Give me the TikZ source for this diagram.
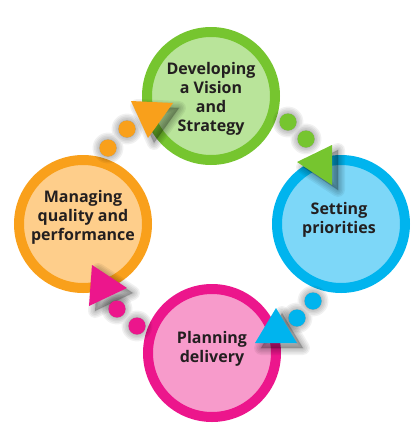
\documentclass[tikz,border=0pt]{standalone}
\usepackage{fontspec}
\setmainfont{Open Sans}
\definecolor{gR}{HTML}{76C52F}
\definecolor{gF}{HTML}{B9E49A}
\definecolor{bR}{HTML}{00B4EE}
\definecolor{bF}{HTML}{7DD7F8}
\definecolor{oR}{HTML}{F9A01B}
\definecolor{oF}{HTML}{FECE8B}
\definecolor{pR}{HTML}{EC168C}
\definecolor{pF}{HTML}{F79BCB}
\definecolor{txt}{HTML}{231F20}
\newcommand{\shad}[1]{\foreach \w in {14,11,8,5,2}{\path[fill=black,draw=black,opacity=0.055,line width=\w pt,line join=round,xshift=6pt,yshift=-5pt] #1;}}
\tikzset{
  ring/.style 2 args={circle,draw=#1,fill=#2,line width=10pt,minimum size=128pt,inner sep=0pt,outer sep=0pt},
  lbl/.style={align=center,text=txt,font=\bfseries\fontsize{16}{19}\selectfont,inner sep=0pt},
  dot/.style={circle,fill=#1,minimum size=17pt,inner sep=0pt,outer sep=0pt},
}
\begin{document}
\begin{tikzpicture}[x=1pt,y=-1pt]
\useasboundingbox (0,0) rectangle (419,426);
% circles
\node[ring={gR}{gF}] (top) at (211,96) {};
\node[ring={bR}{bF}] (right) at (341,224) {};
\node[ring={oR}{oF}] (left) at (83,224) {};
\node[ring={pR}{pF}] (bottom) at (212,353) {};
% labels
\node[lbl] (ttop) at (211,99) {Developing\\a Vision\\and\\Strategy};
\node[lbl] (tright) at (339,220) {Setting\\priorities};
\node[lbl] (tleft) at (83,217) {Managing\\quality and\\performance};
\node[lbl] (tbottom) at (212,349) {Planning\\delivery};
% dot positions
\coordinate (g1) at (288,122);
\coordinate (g2) at (306,139);
\coordinate (o1) at (127,129);
\coordinate (o2) at (108,148);
\coordinate (p1) at (117,309);
\coordinate (p2) at (137,326);
\coordinate (b1) at (297,318);
\coordinate (b2) at (313,301);
% shadows
\shad{(g1) circle (8.5) (g2) circle (8.5)}
\shad{(297,162) -- (332,145) -- (332,185) -- cycle}
\shad{(o1) circle (8.5) (o2) circle (8.5)}
\shad{(131,101) -- (173,103) -- (148,138) -- cycle}
\shad{(p1) circle (8.5) (p2) circle (8.5)}
\shad{(92,265) -- (127,288) -- (89,306) -- cycle}
\shad{(b1) circle (8.5) (b2) circle (8.5)}
\shad{(276,308) -- (255,343) -- (297,343) -- cycle}
% dots
\node[dot=gR] (dg1) at (g1) {};
\node[dot=gR] (dg2) at (g2) {};
\node[dot=oR] (do1) at (o1) {};
\node[dot=oR] (do2) at (o2) {};
\node[dot=pR] (dp1) at (p1) {};
\node[dot=pR] (dp2) at (p2) {};
\node[dot=bR] (db1) at (b1) {};
\node[dot=bR] (db2) at (b2) {};
% triangles
\fill[gR] (297,162) -- (332,145) -- (332,185) -- cycle;
\fill[oR] (131,101) -- (173,103) -- (148,138) -- cycle;
\fill[pR] (92,265) -- (127,288) -- (89,306) -- cycle;
\fill[bR] (276,308) -- (255,343) -- (297,343) -- cycle;
\end{tikzpicture}
\end{document}
